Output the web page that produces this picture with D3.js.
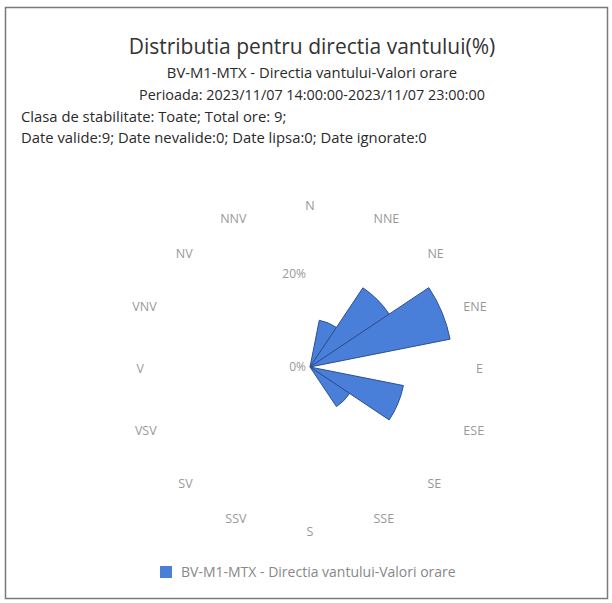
<!DOCTYPE html>
<html lang="ro">
<head>
  <meta charset="UTF-8">
  <title>Distributia pentru directia vantului(%)</title>
  <script src="https://d3js.org/d3.v7.min.js"></script>
  <style>
    * { margin: 0; padding: 0; }
    body { background: #fff; }
    svg { display: block; font-family: "Open Sans", "Noto Sans", sans-serif; }
  </style>
</head>
<body>
  <div class="chart"></div>
  <script>
    var width = 612, height = 603;

    // data (hours: 9 -> multiples of 1/9)
    var directions = ['N', 'NNE', 'NE', 'ENE', 'E', 'ESE', 'SE', 'SSE', 'S', 'SSV', 'SV', 'VSV', 'V', 'VNV', 'NV', 'NNV'];
    var frequency = [0, 11.11, 22.22, 33.33, 0, 22.22, 11.11, 0, 0, 0, 0, 0, 0, 0, 0, 0];
    var radialTicks = [0, 20];
    var seriesName = 'BV-M1-MTX - Directia vantului-Valori orare';
    var titleText = 'Distributia pentru directia vantului(%)';
    var subtitleLines = [
      'BV-M1-MTX - Directia vantului-Valori orare',
      'Perioada: 2023/11/07 14:00:00-2023/11/07 23:00:00'
    ];
    var infoLines = [
      'Clasa de stabilitate: Toate; Total ore: 9;',
      'Date valide:9; Date nevalide:0; Date lipsa:0; Date ignorate:0'
    ];

    var cx = 310, cy = 367;
    var outer = 150;

    var svg = d3.select('.chart')
      .append('svg')
      .attr('width', width)
      .attr('height', height);

    // frame
    svg.append('rect')
      .attr('x', 5.5).attr('y', 7.5)
      .attr('width', 602).attr('height', 591)
      .attr('fill', 'none')
      .attr('stroke', '#7a7a7a')
      .attr('stroke-width', 1.5);

    // titles
    svg.append('text')
      .attr('x', 312).attr('y', 54)
      .attr('text-anchor', 'middle')
      .attr('font-size', 21)
      .attr('fill', '#333')
      .text(titleText);

    svg.selectAll('.sub')
      .data(subtitleLines)
      .enter()
      .append('text')
      .attr('class', 'sub')
      .attr('x', 312)
      .attr('y', function (d, i) { return 78 + i * 22; })
      .attr('text-anchor', 'middle')
      .attr('font-size', function (d, i) { return i === 0 ? 14.8 : 14.4; })
      .attr('fill', '#2a2a2a')
      .text(function (d) { return d; });

    svg.selectAll('.info')
      .data(infoLines)
      .enter()
      .append('text')
      .attr('class', 'info')
      .attr('x', 21)
      .attr('y', function (d, i) { return 122 + i * 21; })
      .attr('font-size', 14.8)
      .attr('fill', '#2a2a2a')
      .text(function (d) { return d; });

    // scales
    var angle = d3.scaleBand()
      .domain(directions)
      .range([-Math.PI / 16, 2 * Math.PI - Math.PI / 16]);
    var r = d3.scaleLinear()
      .domain([0, 35])
      .range([0, outer]);

    var g = svg.append('g')
      .attr('transform', 'translate(' + cx + ',' + cy + ')');

    var arc = d3.arc()
      .innerRadius(0)
      .outerRadius(function (d) { return r(d.value); })
      .startAngle(function (d) { return angle(d.dir); })
      .endAngle(function (d) { return angle(d.dir) + angle.bandwidth(); });

    var rows = directions.map(function (d, i) { return { dir: d, value: frequency[i] }; });

    g.selectAll('.wedge')
      .data(rows.filter(function (d) { return d.value > 0; }))
      .enter()
      .append('path')
      .attr('class', 'wedge')
      .attr('d', arc)
      .attr('fill', '#4a7fd9')
      .attr('stroke', '#2c4f8f')
      .attr('stroke-width', 1)
      .attr('stroke-linejoin', 'round');

    // direction labels
    var labelR = outer + 16;
    g.selectAll('.dir')
      .data(directions)
      .enter()
      .append('text')
      .attr('class', 'dir')
      .attr('x', function (d) {
        var a = angle(d) + angle.bandwidth() / 2;
        return labelR * Math.sin(a);
      })
      .attr('y', function (d) {
        var a = angle(d) + angle.bandwidth() / 2;
        return -labelR * Math.cos(a) * 0.98 + 6;
      })
      .attr('text-anchor', function (d) {
        var a = angle(d) + angle.bandwidth() / 2;
        var s = Math.sin(a);
        if (Math.abs(s) < 0.1) return 'middle';
        return s > 0 ? 'start' : 'end';
      })
      .attr('font-size', 12.5)
      .attr('fill', '#999')
      .text(function (d) { return d; });

    // radial tick labels
    g.selectAll('.rtick')
      .data(radialTicks)
      .enter()
      .append('text')
      .attr('class', 'rtick')
      .attr('x', -4)
      .attr('y', function (d) { return -r(d) + (d === 0 ? 4 : -3); })
      .attr('text-anchor', 'end')
      .attr('font-size', 12)
      .attr('fill', '#999')
      .text(function (d) { return d + '%'; });

    // legend
    var legend = svg.append('g')
      .attr('transform', 'translate(160,566)');
    legend.append('rect')
      .attr('width', 12).attr('height', 12)
      .attr('fill', '#4a7fd9');
    legend.append('text')
      .attr('x', 21).attr('y', 11)
      .attr('font-size', 14)
      .attr('fill', '#888')
      .text(seriesName);
  </script>
</body>
</html>
